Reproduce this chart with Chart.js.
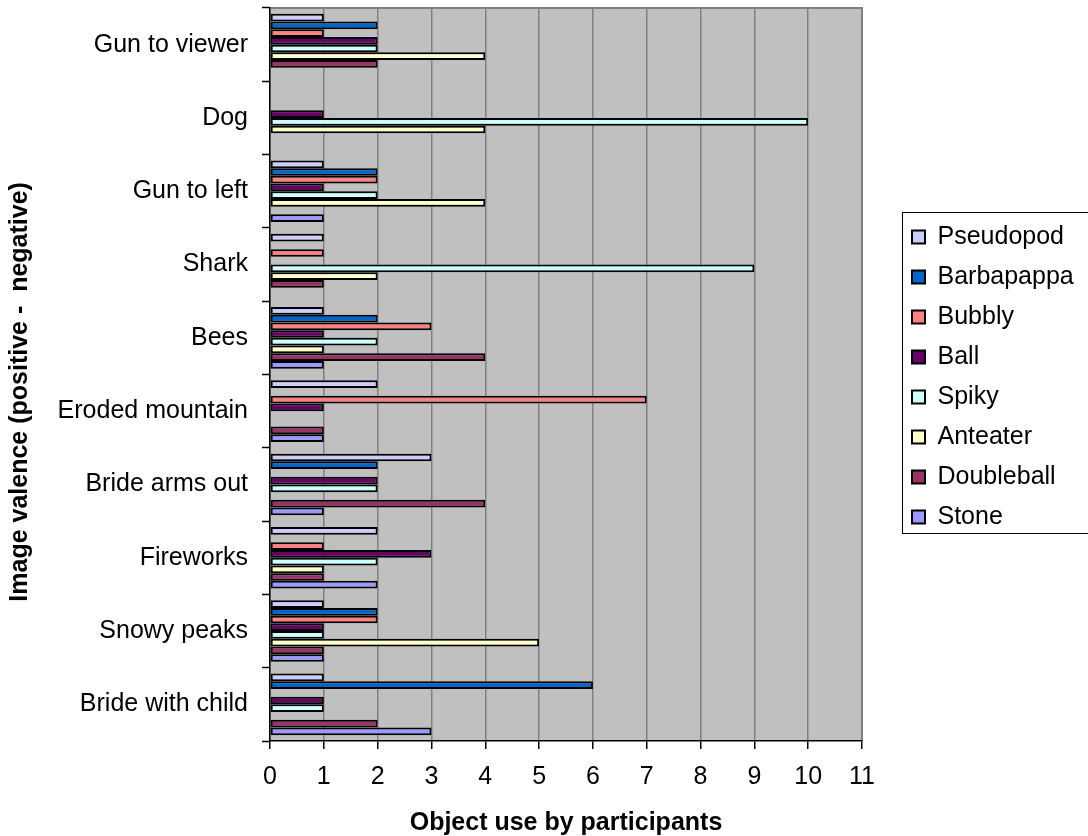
<!DOCTYPE html>
<html>
<head>
<meta charset="utf-8">
<script src="https://cdn.jsdelivr.net/npm/chart.js@4/dist/chart.umd.min.js"></script>
<style>
  html, body { margin: 0; padding: 0; background: #ffffff; }
  #wrap { width: 1088px; height: 836px; position: relative; }
</style>
</head>
<body>
<div id="wrap"><canvas id="c" width="1088" height="836"></canvas></div>
<script>
const categories = ['Gun to viewer', 'Dog', 'Gun to left', 'Shark', 'Bees', 'Eroded mountain', 'Bride arms out', 'Fireworks', 'Snowy peaks', 'Bride with child'];
const seriesNames = ['Pseudopod', 'Barbapappa', 'Bubbly', 'Ball', 'Spiky', 'Anteater', 'Doubleball', 'Stone'];
const pseudopod  = [1, 0, 1, 1, 1, 2, 3, 2, 1, 1];
const barbapappa = [2, 0, 2, 0, 2, 0, 2, 0, 2, 6];
const bubbly     = [1, 0, 2, 1, 3, 7, 0, 1, 2, 0];
const ball       = [2, 1, 1, 0, 1, 1, 2, 3, 1, 1];
const spiky      = [2, 10, 2, 9, 2, 0, 2, 2, 1, 1];
const anteater   = [4, 4, 4, 2, 1, 0, 0, 1, 5, 0];
const doubleball = [2, 0, 0, 1, 4, 1, 4, 1, 1, 2];
const stone      = [0, 0, 1, 0, 1, 1, 1, 2, 1, 3];
const xTicks = [0, 1, 2, 3, 4, 5, 6, 7, 8, 9, 10, 11];
const seriesColors = ['#CCCCFF', '#0066CC', '#FF8080', '#660066', '#CCFFFF', '#FFFFCC', '#993366', '#9999FF'];

const seriesValues = [pseudopod, barbapappa, bubbly, ball, spiky, anteater, doubleball, stone];

const FONT = 'Liberation Sans, Arial, Helvetica, sans-serif';

const plotBg = {
  id: 'plotBg',
  afterInit(chart) {
    const lg = chart.legend;
    if (lg) {
      const f = lg.fit;
      lg.fit = function () { f.call(this); this.width = 226; };
    }
  },
  afterLayout(chart) {
    const lg = chart.legend;
    if (lg) {
      const w = lg.width;
      lg.left = 897; lg.right = 897 + w;
      lg.top -= 45; lg.bottom -= 45;
    }
  },
  beforeDraw(chart) {
    const {ctx, chartArea: a} = chart;
    ctx.save();
    ctx.fillStyle = '#C0C0C0';
    ctx.fillRect(a.left, a.top, a.right - a.left, a.bottom - a.top);
    ctx.strokeStyle = '#808080';
    ctx.lineWidth = 2;
    ctx.beginPath();
    ctx.moveTo(a.left, a.top);
    ctx.lineTo(a.right, a.top);
    ctx.lineTo(a.right, a.bottom);
    ctx.stroke();
    ctx.restore();
  },
  afterDraw(chart) {
    const lg = chart.legend;
    if (!lg) return;
    const ctx = chart.ctx;
    ctx.save();
    ctx.strokeStyle = '#000000';
    ctx.lineWidth = 1;
    ctx.strokeRect(902.5, 212.5, 200, 321);
    ctx.restore();
  }
};

new Chart(document.getElementById('c'), {
  type: 'bar',
  data: {
    labels: categories,
    datasets: seriesNames.map((name, i) => ({
      label: name,
      data: seriesValues[i],
      backgroundColor: seriesColors[i],
      borderColor: '#000000',
      borderWidth: 2,
      borderSkipped: false,
      categoryPercentage: 0.84,
      barPercentage: 1.0
    }))
  },
  options: {
    indexAxis: 'y',
    responsive: false,
    animation: false,
    layout: { padding: { left: 0, right: 0, top: 8, bottom: 0 } },
    plugins: {
      legend: {
        position: 'right',
        align: 'center',
        labels: {
          color: '#000000',
          font: { family: FONT, size: 25 },
          boxWidth: 13,
          boxHeight: 13,
          padding: 15
        }
      },
      tooltip: { enabled: false }
    },
    scales: {
      x: {
        min: 0,
        max: 11,
        afterFit(scale) { scale.height = 95; scale.paddingLeft = 0; scale.paddingRight = 0; },
        afterBuildTicks(scale) { scale.ticks = xTicks.map(v => ({ value: v })); },
        ticks: {
          color: '#000000',
          font: { family: FONT, size: 25 },
          padding: 13
        },
        grid: {
          color: '#808080',
          lineWidth: 1.5,
          tickColor: '#000000',
          tickLength: 8,
          tickWidth: 1.5
        },
        border: { display: true, color: '#000000', width: 1.5 },
        title: {
          display: true,
          text: 'Object use by participants',
          color: '#000000',
          font: { family: FONT, size: 25, weight: 'bold', lineHeight: 1 },
          padding: { top: 0, bottom: 0 }
        }
      },
      y: {
        afterFit(scale) { scale.width = 270; scale.paddingTop = 0; scale.paddingBottom = 0; },
        ticks: {
          color: '#000000',
          font: { family: FONT, size: 25 },
          padding: 14
        },
        grid: {
          offset: true,
          drawOnChartArea: false,
          drawTicks: true,
          tickLength: 8,
          tickColor: '#000000',
          tickWidth: 1.5
        },
        border: { display: true, color: '#000000', width: 1.5 },
        title: {
          display: true,
          text: 'Image valence (positive -  negative)     ',
          color: '#000000',
          font: { family: FONT, size: 25, weight: 'bold', lineHeight: 1 },
          padding: { top: 8, bottom: 0 }
        }
      }
    }
  },
  plugins: [plotBg]
});
</script>
</body>
</html>
